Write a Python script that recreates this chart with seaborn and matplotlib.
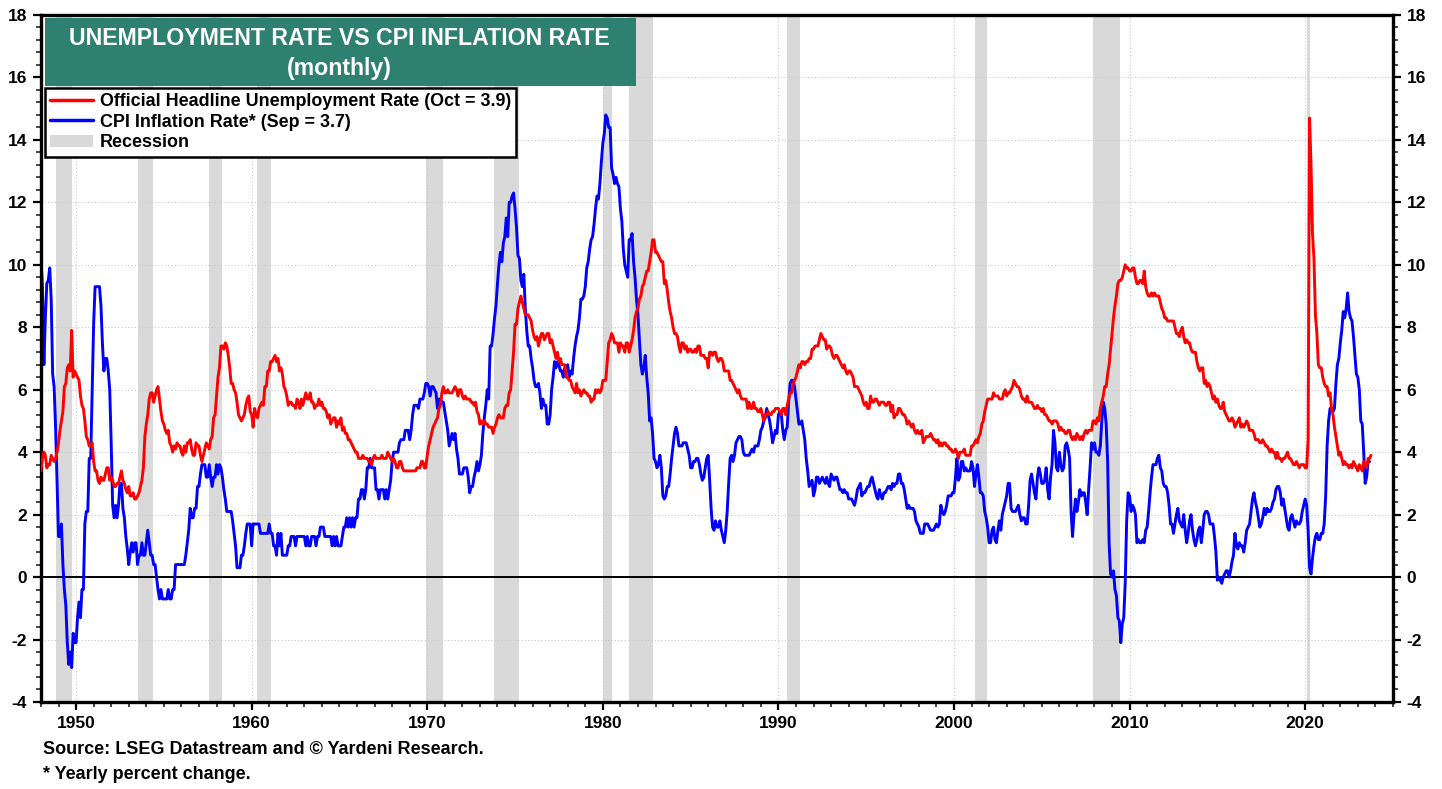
import numpy as np
import pandas as pd
import matplotlib
matplotlib.use('Agg')
import matplotlib.pyplot as plt
import seaborn as sns
from matplotlib.lines import Line2D
from matplotlib.patches import Patch, Rectangle
from matplotlib.ticker import MultipleLocator

# monthly civilian unemployment rate, Jan 1948 - Oct 2023
unemployment = [
    3.4, 3.8, 4.0, 3.9, 3.5, 3.6, 3.6, 3.9, 3.8, 3.7, 3.8, 4.0,
    4.3, 4.7, 5.0, 5.3, 6.1, 6.2, 6.7, 6.8, 6.6, 7.9, 6.4, 6.6,
    6.5, 6.4, 6.3, 5.8, 5.5, 5.4, 5.0, 4.5, 4.4, 4.2, 4.2, 4.3,
    3.7, 3.4, 3.4, 3.1, 3.0, 3.2, 3.1, 3.1, 3.3, 3.5, 3.5, 3.1,
    3.2, 3.1, 2.9, 2.9, 3.0, 3.0, 3.2, 3.4, 3.1, 3.0, 2.8, 2.7,
    2.9, 2.6, 2.6, 2.7, 2.5, 2.5, 2.6, 2.7, 2.9, 3.1, 3.5, 4.5,
    4.9, 5.2, 5.7, 5.9, 5.9, 5.6, 5.8, 6.0, 6.1, 5.7, 5.3, 5.0,
    4.9, 4.7, 4.6, 4.7, 4.3, 4.2, 4.0, 4.2, 4.1, 4.3, 4.2, 4.2,
    4.0, 3.9, 4.2, 4.0, 4.3, 4.3, 4.4, 4.1, 3.9, 3.9, 4.3, 4.2,
    4.2, 3.9, 3.7, 3.9, 4.1, 4.3, 4.2, 4.1, 4.4, 4.5, 5.1, 5.2,
    5.8, 6.4, 6.7, 7.4, 7.4, 7.3, 7.5, 7.4, 7.1, 6.7, 6.2, 6.2,
    6.0, 5.9, 5.6, 5.2, 5.1, 5.0, 5.1, 5.2, 5.5, 5.7, 5.8, 5.3,
    5.2, 4.8, 5.4, 5.2, 5.1, 5.4, 5.5, 5.6, 5.5, 6.1, 6.1, 6.6,
    6.6, 6.9, 6.9, 7.0, 7.1, 6.9, 7.0, 6.6, 6.7, 6.5, 6.1, 6.0,
    5.8, 5.5, 5.6, 5.6, 5.5, 5.5, 5.4, 5.7, 5.6, 5.4, 5.7, 5.5,
    5.7, 5.9, 5.7, 5.7, 5.9, 5.6, 5.6, 5.4, 5.5, 5.5, 5.7, 5.5,
    5.6, 5.4, 5.4, 5.3, 5.1, 5.2, 4.9, 5.0, 5.1, 5.1, 4.8, 5.0,
    4.9, 5.1, 4.7, 4.8, 4.6, 4.6, 4.4, 4.4, 4.3, 4.2, 4.1, 4.0,
    4.0, 3.8, 3.8, 3.8, 3.9, 3.8, 3.8, 3.8, 3.7, 3.7, 3.6, 3.8,
    3.9, 3.8, 3.8, 3.8, 3.8, 3.9, 3.8, 3.8, 3.8, 4.0, 3.9, 3.8,
    3.7, 3.8, 3.7, 3.5, 3.5, 3.7, 3.7, 3.5, 3.4, 3.4, 3.4, 3.4,
    3.4, 3.4, 3.4, 3.4, 3.4, 3.5, 3.5, 3.5, 3.7, 3.7, 3.5, 3.5,
    3.9, 4.2, 4.4, 4.6, 4.8, 4.9, 5.0, 5.1, 5.4, 5.5, 5.9, 6.1,
    5.9, 5.9, 6.0, 5.9, 5.9, 5.9, 6.0, 6.1, 6.0, 5.8, 6.0, 6.0,
    5.8, 5.7, 5.8, 5.7, 5.7, 5.7, 5.6, 5.6, 5.5, 5.6, 5.3, 5.2,
    4.9, 5.0, 4.9, 5.0, 4.9, 4.9, 4.8, 4.8, 4.8, 4.6, 4.8, 4.9,
    5.1, 5.2, 5.1, 5.1, 5.1, 5.4, 5.5, 5.5, 5.9, 6.0, 6.6, 7.2,
    8.1, 8.1, 8.6, 8.8, 9.0, 8.8, 8.6, 8.4, 8.4, 8.4, 8.3, 8.2,
    7.9, 7.7, 7.6, 7.7, 7.4, 7.6, 7.8, 7.8, 7.6, 7.7, 7.8, 7.8,
    7.5, 7.6, 7.4, 7.2, 7.0, 7.2, 6.9, 7.0, 6.8, 6.8, 6.8, 6.4,
    6.4, 6.3, 6.3, 6.1, 6.0, 5.9, 6.2, 5.9, 6.0, 5.8, 5.9, 6.0,
    5.9, 5.9, 5.8, 5.8, 5.6, 5.7, 5.7, 6.0, 5.9, 6.0, 5.9, 6.0,
    6.3, 6.3, 6.3, 6.9, 7.5, 7.6, 7.8, 7.7, 7.5, 7.5, 7.5, 7.2,
    7.5, 7.4, 7.4, 7.2, 7.5, 7.5, 7.2, 7.4, 7.6, 7.9, 8.3, 8.5,
    8.6, 8.9, 9.0, 9.3, 9.4, 9.6, 9.8, 9.8, 10.1, 10.4, 10.8, 10.8,
    10.4, 10.4, 10.3, 10.2, 10.1, 10.1, 9.4, 9.5, 9.2, 8.8, 8.5, 8.3,
    8.0, 7.8, 7.8, 7.7, 7.4, 7.2, 7.5, 7.5, 7.3, 7.4, 7.2, 7.3,
    7.3, 7.2, 7.2, 7.3, 7.2, 7.4, 7.4, 7.1, 7.1, 7.1, 7.0, 7.0,
    6.7, 7.2, 7.2, 7.1, 7.2, 7.2, 7.0, 6.9, 7.0, 7.0, 6.9, 6.6,
    6.6, 6.6, 6.6, 6.3, 6.3, 6.2, 6.1, 6.0, 5.9, 6.0, 5.8, 5.7,
    5.7, 5.7, 5.7, 5.4, 5.6, 5.4, 5.4, 5.6, 5.4, 5.4, 5.3, 5.3,
    5.4, 5.2, 5.0, 5.2, 5.2, 5.3, 5.2, 5.2, 5.3, 5.3, 5.4, 5.4,
    5.4, 5.3, 5.2, 5.4, 5.4, 5.2, 5.5, 5.7, 5.9, 5.9, 6.2, 6.3,
    6.4, 6.6, 6.8, 6.7, 6.9, 6.9, 6.8, 6.9, 6.9, 7.0, 7.0, 7.3,
    7.3, 7.4, 7.4, 7.4, 7.6, 7.8, 7.7, 7.6, 7.6, 7.3, 7.4, 7.4,
    7.3, 7.1, 7.0, 7.1, 7.1, 7.0, 6.9, 6.8, 6.7, 6.8, 6.6, 6.5,
    6.6, 6.6, 6.5, 6.4, 6.1, 6.1, 6.1, 6.0, 5.9, 5.8, 5.6, 5.5,
    5.6, 5.4, 5.4, 5.8, 5.6, 5.6, 5.7, 5.7, 5.6, 5.5, 5.6, 5.6,
    5.6, 5.5, 5.5, 5.6, 5.6, 5.3, 5.5, 5.1, 5.2, 5.2, 5.4, 5.4,
    5.3, 5.2, 5.2, 5.1, 4.9, 5.0, 4.9, 4.8, 4.9, 4.7, 4.6, 4.7,
    4.6, 4.6, 4.7, 4.3, 4.4, 4.5, 4.5, 4.5, 4.6, 4.5, 4.4, 4.4,
    4.3, 4.4, 4.2, 4.3, 4.2, 4.3, 4.3, 4.2, 4.2, 4.1, 4.1, 4.0,
    4.0, 4.1, 4.0, 3.8, 4.0, 4.0, 4.0, 4.1, 3.9, 3.9, 3.9, 3.9,
    4.2, 4.2, 4.3, 4.4, 4.3, 4.5, 4.6, 4.9, 5.0, 5.3, 5.5, 5.7,
    5.7, 5.7, 5.7, 5.9, 5.8, 5.8, 5.8, 5.7, 5.7, 5.7, 5.9, 6.0,
    5.8, 5.9, 5.9, 6.0, 6.1, 6.3, 6.2, 6.1, 6.1, 6.0, 5.8, 5.7,
    5.7, 5.6, 5.8, 5.6, 5.6, 5.6, 5.5, 5.4, 5.4, 5.5, 5.4, 5.4,
    5.3, 5.4, 5.2, 5.2, 5.1, 5.0, 5.0, 4.9, 5.0, 5.0, 5.0, 4.9,
    4.7, 4.8, 4.7, 4.7, 4.6, 4.6, 4.7, 4.7, 4.5, 4.4, 4.5, 4.4,
    4.6, 4.5, 4.4, 4.5, 4.4, 4.6, 4.7, 4.6, 4.7, 4.7, 4.7, 5.0,
    5.0, 4.9, 5.1, 5.0, 5.4, 5.6, 5.8, 6.1, 6.1, 6.5, 6.8, 7.3,
    7.8, 8.3, 8.7, 9.0, 9.4, 9.5, 9.5, 9.6, 9.8, 10.0, 9.9, 9.9,
    9.8, 9.8, 9.9, 9.9, 9.6, 9.4, 9.4, 9.5, 9.5, 9.4, 9.8, 9.3,
    9.1, 9.0, 9.0, 9.1, 9.0, 9.1, 9.0, 9.0, 9.0, 8.8, 8.6, 8.5,
    8.3, 8.3, 8.2, 8.2, 8.2, 8.2, 8.2, 8.0, 7.8, 7.8, 7.7, 7.9,
    8.0, 7.7, 7.5, 7.6, 7.5, 7.5, 7.3, 7.2, 7.2, 7.2, 6.9, 6.7,
    6.6, 6.7, 6.7, 6.2, 6.3, 6.1, 6.2, 6.1, 5.9, 5.7, 5.8, 5.6,
    5.7, 5.5, 5.4, 5.4, 5.6, 5.3, 5.2, 5.1, 5.0, 5.0, 5.1, 5.0,
    4.8, 4.9, 5.0, 5.1, 4.8, 4.9, 4.8, 4.9, 5.0, 4.9, 4.7, 4.7,
    4.7, 4.6, 4.4, 4.4, 4.4, 4.3, 4.3, 4.4, 4.3, 4.2, 4.2, 4.1,
    4.0, 4.1, 4.0, 4.0, 3.8, 4.0, 3.8, 3.8, 3.7, 3.8, 3.8, 3.9,
    4.0, 3.8, 3.8, 3.7, 3.6, 3.6, 3.7, 3.6, 3.5, 3.6, 3.6, 3.6,
    3.5, 3.5, 4.4, 14.7, 13.2, 11.0, 10.2, 8.4, 7.8, 6.8, 6.7, 6.7,
    6.4, 6.2, 6.1, 6.1, 5.8, 5.9, 5.4, 5.2, 4.8, 4.5, 4.2, 3.9,
    4.0, 3.8, 3.6, 3.7, 3.6, 3.6, 3.5, 3.6, 3.5, 3.7, 3.6, 3.5,
    3.4, 3.6, 3.5, 3.4, 3.7, 3.6, 3.5, 3.8, 3.8, 3.9,
]

# CPI, yearly percent change, Jan 1948 - Sep 2023
cpi_inflation = [
    10.2, 9.3, 6.8, 8.3, 9.4, 9.5, 9.9, 8.9, 6.5, 6.1, 4.8, 3.0,
    1.3, 1.3, 1.7, 0.4, -0.4, -0.9, -2.1, -2.8, -2.4, -2.9, -1.8, -2.1,
    -2.1, -1.3, -0.8, -1.3, -0.4, -0.4, 1.7, 2.1, 2.1, 3.8, 3.8, 5.9,
    8.1, 9.3, 9.3, 9.3, 9.3, 8.7, 7.5, 6.6, 7.0, 7.0, 6.6, 6.0,
    4.3, 2.3, 1.9, 2.3, 1.9, 2.3, 3.0, 3.0, 2.2, 1.9, 1.3, 0.9,
    0.4, 0.8, 1.1, 0.8, 1.1, 1.1, 0.4, 0.7, 0.7, 1.1, 0.7, 0.7,
    1.1, 1.5, 1.1, 0.7, 0.7, 0.4, 0.4, 0.0, -0.4, -0.7, -0.4, -0.7,
    -0.7, -0.7, -0.7, -0.4, -0.7, -0.7, -0.4, -0.4, 0.4, 0.4, 0.4, 0.4,
    0.4, 0.4, 0.4, 0.7, 1.1, 1.5, 2.2, 1.9, 1.9, 2.2, 2.2, 2.9,
    2.9, 3.3, 3.6, 3.6, 3.6, 3.2, 3.2, 3.6, 3.2, 2.9, 3.2, 3.2,
    3.6, 3.3, 3.6, 3.5, 3.2, 2.8, 2.5, 2.1, 2.1, 2.1, 2.1, 1.8,
    1.4, 1.0, 0.3, 0.3, 0.3, 0.7, 0.7, 1.0, 1.4, 1.7, 1.7, 1.7,
    1.0, 1.7, 1.7, 1.7, 1.7, 1.7, 1.4, 1.4, 1.4, 1.4, 1.4, 1.4,
    1.7, 1.4, 1.4, 1.0, 1.0, 0.7, 1.4, 1.0, 1.4, 0.7, 0.7, 0.7,
    0.7, 1.0, 1.0, 1.3, 1.3, 1.3, 1.0, 1.3, 1.3, 1.3, 1.3, 1.3,
    1.3, 1.0, 1.3, 1.0, 1.0, 1.3, 1.3, 1.3, 1.0, 1.3, 1.3, 1.6,
    1.6, 1.6, 1.3, 1.3, 1.3, 1.3, 1.3, 1.0, 1.3, 1.0, 1.3, 1.0,
    1.0, 1.0, 1.3, 1.6, 1.6, 1.9, 1.6, 1.9, 1.6, 1.9, 1.6, 1.9,
    1.9, 2.5, 2.5, 2.8, 2.8, 2.5, 2.8, 3.5, 3.5, 3.8, 3.5, 3.5,
    3.5, 2.8, 2.8, 2.5, 2.8, 2.8, 2.8, 2.5, 2.8, 2.5, 2.8, 3.1,
    3.7, 4.0, 4.0, 4.0, 4.0, 4.3, 4.4, 4.4, 4.4, 4.7, 4.7, 4.7,
    4.4, 4.7, 5.2, 5.5, 5.5, 5.5, 5.4, 5.7, 5.7, 5.7, 5.9, 6.2,
    6.2, 6.1, 5.8, 6.1, 6.1, 6.0, 5.9, 5.4, 5.7, 5.7, 5.6, 5.6,
    5.3, 5.0, 4.7, 4.2, 4.4, 4.6, 4.4, 4.6, 4.1, 3.8, 3.3, 3.3,
    3.3, 3.5, 3.5, 3.5, 3.2, 2.7, 2.9, 2.9, 3.2, 3.4, 3.7, 3.4,
    3.6, 3.9, 4.6, 5.1, 5.5, 6.0, 5.7, 7.4, 7.4, 7.8, 8.3, 8.7,
    9.4, 10.0, 10.4, 10.1, 10.7, 10.9, 11.5, 10.9, 12.0, 12.0, 12.2, 12.3,
    11.8, 11.2, 10.3, 10.2, 9.5, 9.3, 9.7, 8.6, 7.9, 7.4, 7.4, 7.0,
    6.7, 6.3, 6.1, 6.1, 6.2, 5.9, 5.4, 5.7, 5.5, 5.5, 4.9, 4.9,
    5.2, 6.0, 6.4, 6.9, 6.7, 6.9, 6.8, 6.6, 6.6, 6.4, 6.7, 6.7,
    6.8, 6.4, 6.6, 6.5, 7.0, 7.4, 7.7, 7.9, 8.3, 8.9, 8.9, 9.0,
    9.3, 9.9, 10.1, 10.5, 10.8, 10.9, 11.3, 11.8, 12.2, 12.1, 12.6, 13.3,
    13.9, 14.2, 14.8, 14.7, 14.4, 14.4, 13.1, 12.9, 12.6, 12.8, 12.6, 12.5,
    11.8, 11.4, 10.5, 10.0, 9.8, 9.6, 10.8, 10.8, 11.0, 10.1, 9.6, 8.9,
    8.4, 7.6, 6.8, 6.5, 6.7, 7.1, 6.4, 5.9, 5.0, 5.1, 4.6, 3.8,
    3.7, 3.5, 3.6, 3.9, 3.5, 2.6, 2.5, 2.6, 2.9, 2.9, 3.3, 3.8,
    4.2, 4.6, 4.8, 4.6, 4.2, 4.2, 4.2, 4.3, 4.3, 4.3, 4.1, 3.9,
    3.5, 3.5, 3.7, 3.7, 3.8, 3.8, 3.6, 3.3, 3.1, 3.2, 3.5, 3.8,
    3.9, 3.1, 2.2, 1.6, 1.5, 1.8, 1.6, 1.6, 1.8, 1.5, 1.3, 1.1,
    1.5, 2.1, 3.0, 3.8, 3.9, 3.7, 3.9, 4.3, 4.4, 4.5, 4.5, 4.4,
    4.0, 3.9, 3.9, 3.9, 3.9, 4.0, 4.1, 4.0, 4.2, 4.2, 4.2, 4.4,
    4.7, 4.8, 5.0, 5.1, 5.4, 5.2, 5.0, 4.7, 4.3, 4.5, 4.7, 4.6,
    5.2, 5.3, 5.2, 4.7, 4.4, 4.7, 4.8, 5.6, 6.2, 6.3, 6.3, 6.1,
    5.7, 5.3, 4.9, 4.9, 5.0, 4.7, 4.4, 3.8, 3.4, 2.9, 3.0, 3.1,
    2.6, 2.8, 3.2, 3.2, 3.0, 3.1, 3.2, 3.1, 3.0, 3.2, 3.0, 2.9,
    3.3, 3.2, 3.1, 3.2, 3.2, 3.0, 2.8, 2.8, 2.7, 2.8, 2.7, 2.7,
    2.5, 2.5, 2.5, 2.4, 2.3, 2.5, 2.8, 2.9, 3.0, 2.6, 2.7, 2.7,
    2.8, 2.9, 2.9, 3.1, 3.2, 3.0, 2.8, 2.6, 2.5, 2.8, 2.6, 2.5,
    2.7, 2.7, 2.8, 2.9, 2.9, 2.8, 3.0, 2.9, 3.0, 3.0, 3.3, 3.3,
    3.0, 3.0, 2.8, 2.5, 2.2, 2.3, 2.2, 2.2, 2.2, 2.1, 1.8, 1.7,
    1.6, 1.4, 1.4, 1.4, 1.7, 1.7, 1.7, 1.6, 1.5, 1.5, 1.5, 1.6,
    1.7, 1.6, 1.7, 2.3, 2.1, 2.0, 2.1, 2.3, 2.6, 2.6, 2.6, 2.7,
    2.7, 3.2, 3.8, 3.1, 3.2, 3.7, 3.7, 3.4, 3.5, 3.4, 3.4, 3.4,
    3.7, 3.5, 2.9, 3.3, 3.6, 3.2, 2.7, 2.7, 2.6, 2.1, 1.9, 1.6,
    1.1, 1.1, 1.5, 1.6, 1.2, 1.1, 1.5, 1.8, 1.5, 2.0, 2.2, 2.4,
    2.6, 3.0, 3.0, 2.2, 2.1, 2.1, 2.1, 2.2, 2.3, 2.0, 1.8, 1.9,
    1.9, 1.7, 1.7, 2.3, 3.1, 3.3, 3.0, 2.7, 2.5, 3.2, 3.5, 3.3,
    3.0, 3.0, 3.1, 3.5, 2.8, 2.5, 3.2, 3.6, 4.7, 4.3, 3.5, 3.4,
    4.0, 3.6, 3.4, 3.5, 4.2, 4.3, 4.1, 3.8, 2.1, 1.3, 2.0, 2.5,
    2.1, 2.4, 2.8, 2.6, 2.7, 2.7, 2.4, 2.0, 2.8, 3.5, 4.3, 4.1,
    4.3, 4.0, 4.0, 3.9, 4.2, 5.0, 5.6, 5.4, 4.9, 3.7, 1.1, 0.1,
    0.0, 0.2, -0.4, -0.6, -1.3, -1.4, -2.1, -1.5, -1.3, -0.2, 1.8, 2.7,
    2.6, 2.1, 2.3, 2.2, 2.0, 1.1, 1.2, 1.1, 1.1, 1.2, 1.1, 1.5,
    1.6, 2.1, 2.7, 3.2, 3.6, 3.6, 3.6, 3.8, 3.9, 3.5, 3.4, 3.0,
    2.9, 2.9, 2.7, 2.3, 1.7, 1.7, 1.4, 1.7, 2.0, 2.2, 1.8, 1.7,
    1.6, 2.0, 1.5, 1.1, 1.4, 1.8, 2.0, 1.5, 1.2, 1.0, 1.2, 1.5,
    1.6, 1.1, 1.5, 2.0, 2.1, 2.1, 2.0, 1.7, 1.7, 1.7, 1.3, 0.8,
    -0.1, 0.0, -0.1, -0.2, 0.0, 0.1, 0.2, 0.2, 0.0, 0.2, 0.5, 0.7,
    1.4, 1.0, 0.9, 1.1, 1.0, 1.0, 0.8, 1.1, 1.5, 1.6, 1.7, 2.1,
    2.5, 2.7, 2.4, 2.2, 1.9, 1.6, 1.7, 1.9, 2.2, 2.0, 2.2, 2.1,
    2.1, 2.2, 2.4, 2.5, 2.8, 2.9, 2.9, 2.7, 2.3, 2.5, 2.2, 1.9,
    1.6, 1.5, 1.9, 2.0, 1.8, 1.6, 1.8, 1.7, 1.7, 1.8, 2.1, 2.3,
    2.5, 2.3, 1.5, 0.3, 0.1, 0.6, 1.0, 1.3, 1.4, 1.2, 1.2, 1.4,
    1.4, 1.7, 2.6, 4.2, 5.0, 5.4, 5.4, 5.3, 5.4, 6.2, 6.8, 7.0,
    7.5, 7.9, 8.5, 8.3, 8.6, 9.1, 8.5, 8.3, 8.2, 7.7, 7.1, 6.5,
    6.4, 6.0, 5.0, 4.9, 4.0, 3.0, 3.2, 3.7, 3.7,
]

# NBER recessions (start, end) as decimal years
recession_start = [1948.88, 1953.50, 1957.58, 1960.29, 1969.92, 1973.83, 1980.00, 1981.50, 1990.50, 2001.17, 2007.92, 2020.08]
recession_end = [1949.79, 1954.38, 1958.29, 1961.12, 1970.88, 1975.21, 1980.54, 1982.88, 1991.21, 2001.88, 2009.46, 2020.29]

year_ticks = [1950, 1960, 1970, 1980, 1990, 2000, 2010, 2020]
y_ticks = list(range(-4, 20, 2))

legend_labels = ['Official Headline Unemployment Rate (Oct = 3.9)',
                 'CPI Inflation Rate* (Sep = 3.7)',
                 'Recession']

unemp_df = pd.DataFrame({'date': 1948 + np.arange(len(unemployment)) / 12, 'value': unemployment})
cpi_df = pd.DataFrame({'date': 1948 + np.arange(len(cpi_inflation)) / 12, 'value': cpi_inflation})

sns.set_style('white')
plt.rcParams['font.family'] = ['Liberation Sans', 'DejaVu Sans']
plt.rcParams['font.weight'] = 'bold'
plt.rcParams['text.color'] = 'black'

fig = plt.figure(figsize=(14.42, 7.89), dpi=100)
ax = fig.add_axes([0.0284, 0.1103, 0.9376, 0.8707])

# recession shading and dotted grid
for s, e in zip(recession_start, recession_end):
    ax.axvspan(s, e, color='#D9D9D9', lw=0, zorder=0)
for yv in y_ticks:
    ax.axhline(yv, color='#C8C8C8', lw=0.8, ls=(0, (1, 2)), zorder=0.5)
for xv in year_ticks:
    ax.axvline(xv, color='#C8C8C8', lw=0.8, ls=(0, (1, 2)), zorder=0.5)
ax.axhline(0, color='black', lw=1.4, zorder=1)

sns.lineplot(data=unemp_df, x='date', y='value', color='#FF0000', lw=2.1, ax=ax, zorder=3)
sns.lineplot(data=cpi_df, x='date', y='value', color='#0000FF', lw=2.1, ax=ax, zorder=2)

ax.set_xlim(1948, 2025)
ax.set_ylim(-4, 18)
ax.set_xticks(year_ticks)
ax.set_yticks(y_ticks)
ax.set_yticklabels([str(v) for v in y_ticks])
ax.xaxis.set_minor_locator(MultipleLocator(1))
ax.yaxis.set_minor_locator(MultipleLocator(0.4))
ax.set_xlabel('')
ax.set_ylabel('')
ax.tick_params(axis='both', which='major', direction='out', length=6, width=1.6,
               labelsize=12.5, pad=4, colors='black')
ax.tick_params(axis='y', which='both', left=True, right=True, labelleft=True, labelright=True)
ax.tick_params(axis='x', which='both', bottom=True)
ax.tick_params(axis='both', which='minor', direction='out', length=3.5, width=1.2)
for lab in ax.get_xticklabels() + ax.get_yticklabels():
    lab.set_fontweight('bold')
for sp in ax.spines.values():
    sp.set_linewidth(2.4)
    sp.set_color('black')

# title box
ax.add_patch(Rectangle((0.003, 0.897), 0.437, 0.099, transform=ax.transAxes,
                       facecolor='#2E8070', edgecolor='none', zorder=5))
ax.text(0.221, 0.966, 'UNEMPLOYMENT RATE VS CPI INFLATION RATE', transform=ax.transAxes,
        ha='center', va='center', color='white', fontsize=16.7, fontweight='bold', zorder=6)
ax.text(0.221, 0.922, '(monthly)', transform=ax.transAxes,
        ha='center', va='center', color='white', fontsize=16.7, fontweight='bold', zorder=6)

handles = [
    Line2D([], [], color='#FF0000', lw=2.5),
    Line2D([], [], color='#0000FF', lw=2.5),
    Patch(facecolor='#D9D9D9', edgecolor='none'),
]
leg = ax.legend(handles, legend_labels, loc='upper left', bbox_to_anchor=(0.003, 0.894),
                borderaxespad=0, frameon=True, fancybox=False, framealpha=1,
                edgecolor='black', prop={'weight': 'bold', 'size': 12.9},
                handlelength=2.4, handletextpad=0.35, labelspacing=0.2, borderpad=0.3)
leg.get_frame().set_linewidth(1.8)
leg.set_zorder(6)

fig.text(0.030, 0.050, 'Source: LSEG Datastream and \u00a9 Yardeni Research.',
         fontsize=13, fontweight='bold', va='center', ha='left')
fig.text(0.030, 0.019, '* Yearly percent change.',
         fontsize=13, fontweight='bold', va='center', ha='left')

fig.savefig('out.png', dpi=100)
